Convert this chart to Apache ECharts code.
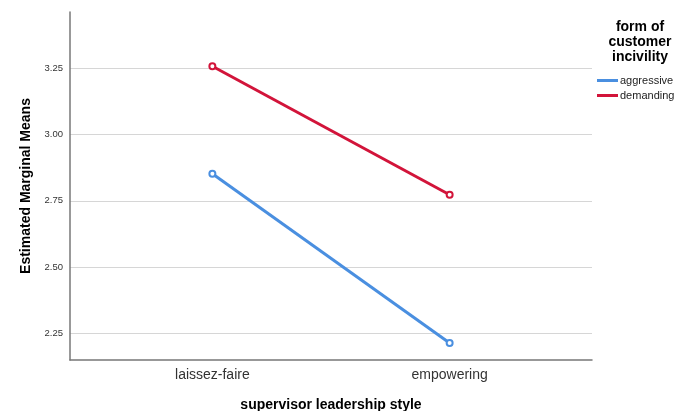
<!DOCTYPE html>
<html>
<head>
<meta charset="utf-8">
<script src="https://cdn.jsdelivr.net/npm/echarts@6/dist/echarts.min.js"></script>
<style>html,body{margin:0;padding:0;background:#fff;}#chart{width:693px;height:411px;}</style>
</head>
<body>
<div id="chart"></div>
<script>
const categories = ['laissez-faire', 'empowering'];
const aggressive = [2.852, 2.212];
const demanding = [3.259, 2.773];
const yTicks = [2.25, 2.50, 2.75, 3.00, 3.25];
const seriesNames = ['aggressive', 'demanding'];

const chart = echarts.init(document.getElementById('chart'));
const font = 'Liberation Sans, Arial, sans-serif';
function pts(vals) { return vals.map((v, i) => [i, v]); }
chart.setOption({
  animation: false,
  backgroundColor: '#fff',
  title: {
    text: 'form of\ncustomer\nincivility',
    left: 635, top: 15, textAlign: 'center',
    textStyle: { fontFamily: font, fontSize: 14, fontWeight: 'bold', color: '#000', lineHeight: 15, align: 'center' }
  },
  legend: {
    orient: 'vertical', left: 592, top: 70,
    itemWidth: 21, itemHeight: 3, itemGap: 4,
    icon: 'rect',
    textStyle: { fontFamily: font, fontSize: 11, color: '#222', padding: [0, 0, 0, -3] },
    data: seriesNames
  },
  grid: { left: 70, right: 101, top: 12, bottom: 51, containLabel: false, outerBoundsMode: 'none' },
  xAxis: {
    type: 'value', min: -0.6, max: 1.6,
    axisLine: { show: true, onZero: false, lineStyle: { color: '#777', width: 1.5 } },
    axisTick: { show: false },
    splitLine: { show: false },
    axisLabel: {
      customValues: [0, 1],
      formatter: v => categories[Math.round(v)] || '',
      fontFamily: font, fontSize: 14, color: '#333', margin: 8
    },
    name: 'supervisor leadership style', nameLocation: 'middle', nameGap: 38,
    nameTextStyle: { fontFamily: font, fontSize: 14, fontWeight: 'bold', color: '#000' }
  },
  yAxis: {
    type: 'value', min: 2.148, max: 3.464,
    axisLine: { show: true, onZero: false, lineStyle: { color: '#777', width: 1.5 } },
    axisTick: { show: false, customValues: yTicks },
    splitLine: { show: true, lineStyle: { color: '#d6d6d6', width: 1 } },
    axisLabel: {
      customValues: yTicks,
      formatter: v => v.toFixed(2),
      fontFamily: font, fontSize: 9.5, color: '#333', margin: 7
    },
    name: 'Estimated Marginal Means', nameLocation: 'middle', nameGap: 36,
    nameTextStyle: { fontFamily: font, fontSize: 14, fontWeight: 'bold', color: '#000' }
  },
  series: [
    {
      name: seriesNames[0], type: 'line', data: pts(aggressive),
      symbol: 'emptyCircle', symbolSize: 6,
      lineStyle: { color: '#4a8fe0', width: 3 },
      itemStyle: { color: '#4a8fe0', borderWidth: 1.5 }
    },
    {
      name: seriesNames[1], type: 'line', data: pts(demanding),
      symbol: 'emptyCircle', symbolSize: 6,
      lineStyle: { color: '#d2143a', width: 3 },
      itemStyle: { color: '#d2143a', borderWidth: 1.5 }
    }
  ]
});
</script>
</body>
</html>
